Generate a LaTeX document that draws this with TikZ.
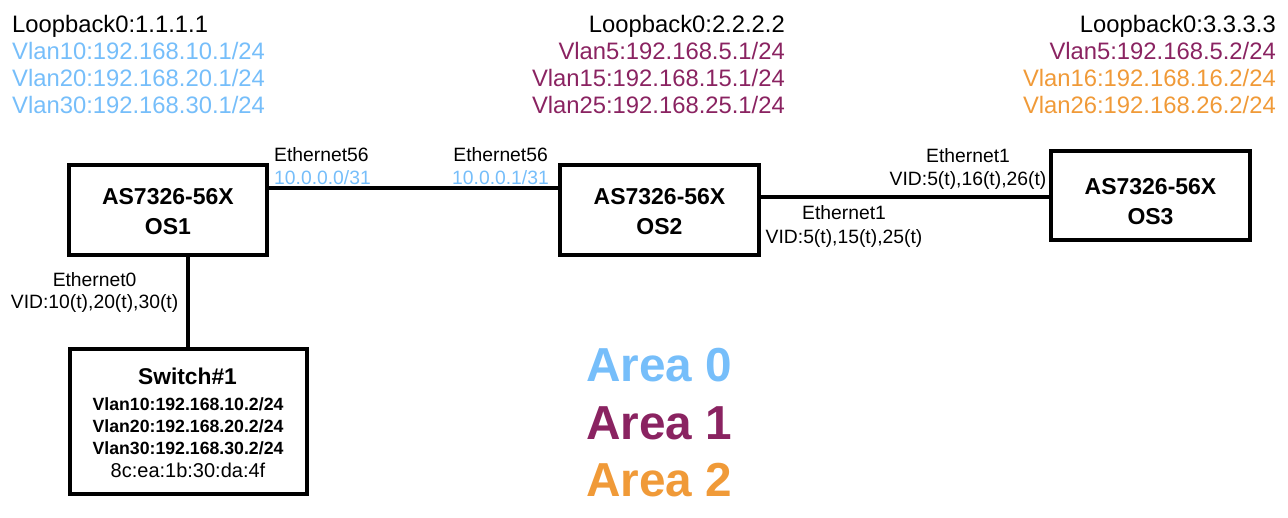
\documentclass[tikz,border=0pt]{standalone}
\usepackage{fontspec}
\setmainfont{Liberation Sans}
\definecolor{ablue}{RGB}{118,190,250}
\definecolor{apurple}{RGB}{138,35,97}
\definecolor{aorange}{RGB}{240,154,56}
\begin{document}
\begin{tikzpicture}[x=1pt,y=-1pt,
  dev/.style={draw, line width=4pt, inner sep=0pt, outer sep=0pt},
  link/.style={line width=4pt},
  devtext/.style={font=\fontsize{23}{30}\selectfont\bfseries, align=center, inner sep=0pt},
  toptext/.style={font=\fontsize{23.8}{27}\selectfont, inner sep=0pt},
  portt/.style={font=\fontsize{19.3}{23}\selectfont, inner sep=0pt},
  swb/.style={font=\fontsize{17.7}{22}\selectfont\bfseries, inner sep=0pt, anchor=base},
  areat/.style={font=\fontsize{47.7}{57}\selectfont\bfseries, inner sep=0pt, anchor=base west}]
\useasboundingbox (0,0) rectangle (1288,518);

% devices
\node[dev, minimum width=198.3pt, minimum height=90.3pt] (os1) at (167.9,209.9) {};
\node[dev, minimum width=199pt, minimum height=90pt] (os2) at (659.5,210) {};
\node[dev, minimum width=199pt, minimum height=89pt] (os3) at (1150.5,195.5) {};
\node[dev, minimum width=237.3pt, minimum height=145pt] (sw) at (188.3,421.5) {};

\node[devtext] (os1t) at (167.9,211.5) {AS7326-56X\\OS1};
\node[devtext] (os2t) at (659.5,211.5) {AS7326-56X\\OS2};
\node[devtext] (os3t) at (1150.5,202) {AS7326-56X\\OS3};

\node[font=\fontsize{22.8}{27}\selectfont\bfseries, anchor=base, inner sep=0pt] (swt) at (187.5,385) {Switch\#1};
\node[swb] (sw1) at (188,410) {Vlan10:192.168.10.2/24};
\node[swb] (sw2) at (188,432) {Vlan20:192.168.20.2/24};
\node[swb] (sw3) at (188,454) {Vlan30:192.168.30.2/24};
\node[anchor=base, font=\fontsize{20}{24}\selectfont, inner sep=0pt] (swm) at (188,477) {8c:ea:1b:30:da:4f};

% connectors
\coordinate (ya) at (0,188);
\coordinate (yb) at (0,197);
\coordinate (xc) at (188,0);
\draw[link] (os1.east |- ya) -- (os2.west |- ya);
\draw[link] (os2.east |- yb) -- (os3.west |- yb);
\draw[link] (os1.south -| xc) -- (sw.north -| xc);

% top labels
\node[toptext, anchor=base west] (lo1) at (12,33) {Loopback0:1.1.1.1};
\node[toptext, anchor=base west, text=ablue] (v10) at (12,60) {Vlan10:192.168.10.1/24};
\node[toptext, anchor=base west, text=ablue] (v20) at (12,87) {Vlan20:192.168.20.1/24};
\node[toptext, anchor=base west, text=ablue] (v30) at (12,114) {Vlan30:192.168.30.1/24};

\node[toptext, anchor=base east] (lo2) at (785,33) {Loopback0:2.2.2.2};
\node[toptext, anchor=base east, text=apurple] (v5a) at (785,60) {Vlan5:192.168.5.1/24};
\node[toptext, anchor=base east, text=apurple] (v15) at (785,87) {Vlan15:192.168.15.1/24};
\node[toptext, anchor=base east, text=apurple] (v25) at (785,114) {Vlan25:192.168.25.1/24};

\node[toptext, anchor=base east] (lo3) at (1276,33) {Loopback0:3.3.3.3};
\node[toptext, anchor=base east, text=apurple] (v5b) at (1276,60) {Vlan5:192.168.5.2/24};
\node[toptext, anchor=base east, text=aorange] (v16) at (1276,87) {Vlan16:192.168.16.2/24};
\node[toptext, anchor=base east, text=aorange] (v26) at (1276,114) {Vlan26:192.168.26.2/24};

% port labels
\node[portt, anchor=base west] (e56a) at (274,162) {Ethernet56};
\node[portt, anchor=base west, text=ablue] (ip56a) at (274,185) {10.0.0.0/31};
\node[portt, anchor=base east] (e56b) at (548,162) {Ethernet56};
\node[portt, anchor=base east, text=ablue] (ip56b) at (549,185) {10.0.0.1/31};
\node[portt, anchor=base] (e0) at (94.6,287) {Ethernet0};
\node[portt, anchor=base] (vid0) at (94.6,309) {VID:10(t),20(t),30(t)};
\node[portt, anchor=base] (e1a) at (844,220) {Ethernet1};
\node[portt, anchor=base] (vid1a) at (844,244) {VID:5(t),15(t),25(t)};
\node[portt, anchor=base] (e1b) at (968,163) {Ethernet1};
\node[portt, anchor=base] (vid1b) at (968,186) {VID:5(t),16(t),26(t)};

% areas
\node[areat, text=ablue] (a0) at (586,381.7) {Area 0};
\node[areat, text=apurple] (a1) at (586,439) {Area 1};
\node[areat, text=aorange] (a2) at (586,496.7) {Area 2};
\end{tikzpicture}
\end{document}
